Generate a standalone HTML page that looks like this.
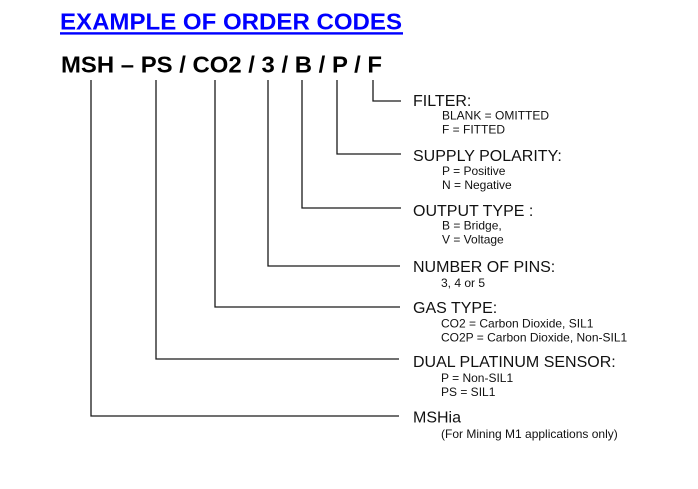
<!DOCTYPE html>
<html>
<head>
<meta charset="utf-8">
<style>
  html, body { margin: 0; padding: 0; background: #ffffff; }
  body { width: 698px; height: 489px; overflow: hidden; }
  svg { display: block; }
  text { font-family: "Liberation Sans", Arial, sans-serif; fill: #111111; }
  .h { font-size: 16px; }
  .s { font-size: 12px; }
</style>
</head>
<body>
<svg width="698" height="489" viewBox="0 0 698 489" xmlns="http://www.w3.org/2000/svg">
  <rect x="0" y="0" width="698" height="489" fill="#ffffff"/>

  <!-- Title -->
  <text x="60" y="29.5" font-size="23" font-weight="bold" style="fill:#0000ff" textLength="342" lengthAdjust="spacingAndGlyphs">EXAMPLE OF ORDER CODES</text>
  <rect x="60" y="32.2" width="343" height="2.4" fill="#0000ff"/>

  <!-- Order code -->
  <text x="61" y="72.5" font-size="23" font-weight="bold" style="fill:#000000" textLength="321" lengthAdjust="spacingAndGlyphs">MSH – PS / CO2 / 3 / B / P / F</text>

  <!-- Connector lines -->
  <g stroke="#1a1a1a" stroke-width="1.3" fill="none">
    <polyline points="373,80 373,101 401,101"/>
    <polyline points="337,80 337,154 401,154"/>
    <polyline points="302,80 302,208 401,208"/>
    <polyline points="268,80 268,266 400,266"/>
    <polyline points="215,80 215,307 400,307"/>
    <polyline points="156,80 156,359 399,359"/>
    <polyline points="91,80 91,416 399,416"/>
  </g>

  <!-- FILTER -->
  <text class="h" x="413" y="106">FILTER:</text>
  <text class="s" x="442" y="119.5">BLANK = OMITTED</text>
  <text class="s" x="442" y="133.3">F = FITTED</text>

  <!-- SUPPLY POLARITY -->
  <text class="h" x="413" y="161">SUPPLY POLARITY:</text>
  <text class="s" x="442" y="175">P = Positive</text>
  <text class="s" x="442" y="189">N = Negative</text>

  <!-- OUTPUT TYPE -->
  <text class="h" x="413" y="216">OUTPUT TYPE :</text>
  <text class="s" x="442" y="229.5">B = Bridge,</text>
  <text class="s" x="442" y="243.5">V = Voltage</text>

  <!-- NUMBER OF PINS -->
  <text class="h" x="413" y="272">NUMBER OF PINS:</text>
  <text class="s" x="441" y="287">3, 4 or 5</text>

  <!-- GAS TYPE -->
  <text class="h" x="413" y="313">GAS TYPE:</text>
  <text class="s" x="441" y="327.5">CO2 = Carbon Dioxide, SIL1</text>
  <text class="s" x="441" y="341.5">CO2P = Carbon Dioxide, Non-SIL1</text>

  <!-- DUAL PLATINUM SENSOR -->
  <text class="h" x="413" y="367">DUAL PLATINUM SENSOR:</text>
  <text class="s" x="441" y="382">P = Non-SIL1</text>
  <text class="s" x="441" y="396">PS = SIL1</text>

  <!-- MSHia -->
  <text class="h" x="413" y="422.5">MSHia</text>
  <text class="s" x="441" y="438">(For Mining M1 applications only)</text>
</svg>
</body>
</html>
